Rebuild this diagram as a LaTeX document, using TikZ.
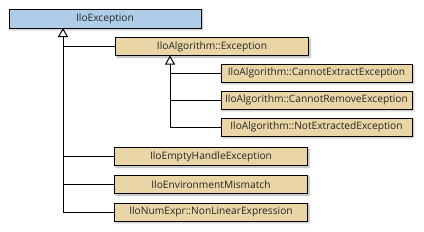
\documentclass[tikz,border=0pt]{standalone}
\usepackage{fontspec}
\setmainfont{Open Sans}
\usetikzlibrary{arrows.meta,shadows.blur}
\definecolor{rootblue}{HTML}{AFCDE9}
\definecolor{clstan}{HTML}{EAD5A6}
\tikzset{
  cls/.style={draw=black, line width=1pt, fill=clstan, minimum height=18pt,
    inner sep=0pt, font=\fontsize{10.2}{11}\selectfont, text=black!85,
    blur shadow={shadow xshift=1.5pt, shadow yshift=-1.5pt, shadow blur radius=2pt, shadow opacity=35}},
  wide/.style={cls, minimum width=193pt},
  sub/.style={cls, minimum width=191pt},
  rootcls/.style={cls, fill=rootblue, minimum width=192pt, minimum height=19pt},
  inh/.style={line width=1pt, -{Triangle[open, length=9pt, width=10pt, line width=1pt]}},
  link/.style={line width=1pt}
}
\begin{document}
\begin{tikzpicture}[x=1pt, y=-1pt]
\useasboundingbox (0,0) rectangle (424,231);
\node[rootcls] (root) at (105,18.5) {IloException};
\node[wide] (algex) at (212,46.5) {IloAlgorithm::Exception};
\node[sub] (cext) at (316.5,73) {IloAlgorithm::CannotExtractException};
\node[sub] (crem) at (316.5,100) {IloAlgorithm::CannotRemoveException};
\node[sub] (notext) at (316.5,127) {IloAlgorithm::NotExtractedException};
\node[wide] (empty) at (211,156.5) {IloEmptyHandleException};
\node[wide] (envm) at (211,184.5) {IloEnvironmentMismatch};
\node[wide] (nonlin) at (211,212) {IloNumExpr::NonLinearExpression};
\coordinate (rtip) at (63,28);
\coordinate (atip) at (170,55.5);
\draw[inh] (nonlin.west) -| (rtip);
\draw[link] (algex.west) -- (algex.west -| rtip);
\draw[link] (empty.west) -- (empty.west -| rtip);
\draw[link] (envm.west) -- (envm.west -| rtip);
\draw[inh] (notext.west) -| (atip);
\draw[link] (cext.west) -- (cext.west -| atip);
\draw[link] (crem.west) -- (crem.west -| atip);
\end{tikzpicture}
\end{document}
